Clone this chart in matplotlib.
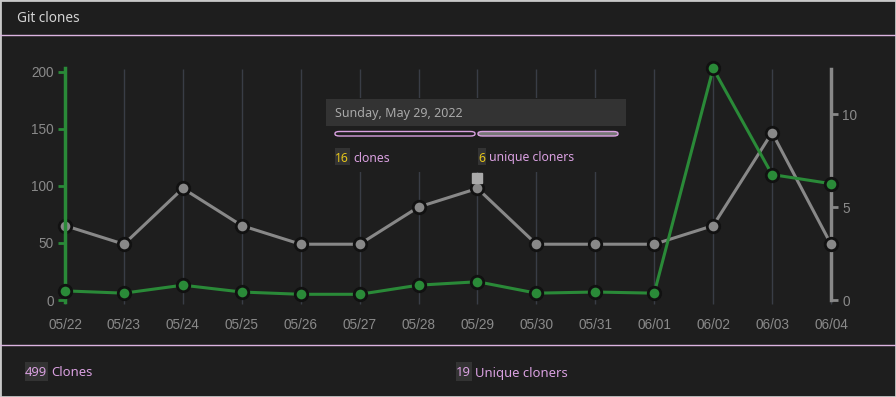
import matplotlib
matplotlib.use("Agg")
import matplotlib.pyplot as plt
import matplotlib.transforms as mtransforms
from matplotlib.patches import Rectangle, FancyBboxPatch

# data
dates = ["05/22", "05/23", "05/24", "05/25", "05/26", "05/27", "05/28",
         "05/29", "05/30", "05/31", "06/01", "06/02", "06/03", "06/04"]
clones = [8, 6, 13, 7, 5, 5, 13, 16, 6, 7, 6, 203, 110, 102]
uniques = [4, 3, 6, 4, 3, 3, 5, 6, 3, 3, 3, 4, 9, 3]
total_clones = 499
total_uniques = 19
hover_idx = 7
hover_label = "Sunday, May 29, 2022"

BG = "#1e1e1e"
GREEN = "#2a8a38"
GRAY = "#888888"
PINK = "#d9a0e0"
YELLOW = "#e6c619"
TICK = "#8a8a8a"
W, H = 896, 397

plt.rcParams["font.family"] = ["Liberation Sans", "DejaVu Sans"]
UI_FONT = ["Noto Sans", "DejaVu Sans"]

fig = plt.figure(figsize=(W / 100, H / 100), dpi=100, facecolor=BG)


def fx(px):
    return px / W


def fy(py):
    return 1 - py / H


ax = fig.add_axes([fx(65), fy(300), fx(831 - 65), (300 - 68.5) / H])
ax2 = ax.twinx()
# green axis on top so its markers sit over the grey spine
ax.set_zorder(ax2.get_zorder() + 1)
ax.patch.set_visible(False)
ax2.patch.set_facecolor(BG)

x = list(range(len(dates)))

# vertical grid, running a little below the plot like the reference
ax2.vlines(x, -0.018, 1, transform=ax2.get_xaxis_transform(), color="#393d46",
           lw=1, zorder=0, clip_on=False)

ax.plot(x, clones, color=GREEN, lw=2.2, marker="o", ms=9, mfc=GREEN,
        mec="#111111", mew=2, zorder=3, clip_on=False)
ax2.plot(x, uniques, color=GRAY, lw=2.2, marker="o", ms=9, mfc=GRAY,
         mec="#111111", mew=2, zorder=3, clip_on=False)

# hover square above the selected point
sq_tr = mtransforms.offset_copy(ax2.transData, fig=fig, x=0, y=10, units="dots")
ax2.plot([hover_idx], [uniques[hover_idx]], marker="s", ms=7.5, color="#aaaaaa",
         transform=sq_tr, clip_on=False, zorder=4)

ax.set_xlim(0, len(dates) - 1)
ax.set_ylim(0, max(clones))
ax2.set_ylim(0, 12.45)

ax.set_xticks(x)
ax.set_xticklabels(dates)
ax.set_yticks([0, 50, 100, 150, 200])
ax2.set_yticks([0, 5, 10])

for s in ["top", "bottom", "right"]:
    ax.spines[s].set_visible(False)
for s in ["top", "bottom", "left"]:
    ax2.spines[s].set_visible(False)
ax.spines["left"].set_color(GREEN)
ax.spines["left"].set_linewidth(2.5)
ax.spines["left"].set_bounds(-1.5, max(clones))
ax2.spines["right"].set_color(GRAY)
ax2.spines["right"].set_linewidth(2.5)

ax.tick_params(axis="x", length=0, pad=13, labelsize=9.8, labelcolor=TICK)
ax.tick_params(axis="y", length=5, width=2, color=GREEN, labelsize=9.8,
               labelcolor=TICK, pad=3)
ax2.tick_params(axis="y", length=5, width=2, color=GRAY, labelsize=9.8,
                labelcolor=TICK, pad=3)

# header / footer
fig.text(fx(17), fy(18), "Git clones", color="#d4d4d4", fontsize=9.8,
         va="center", ha="left", family=UI_FONT)
for yy in (35, 345):
    fig.add_artist(plt.Line2D([0, 1], [fy(yy), fy(yy)], color="#dcb4e0", lw=1))
fig.add_artist(Rectangle((0, 0), 1, 1, transform=fig.transFigure, fill=False,
                         ec="#c8c8c8", lw=2))

# tooltip: mask behind, date strip, bars, counts
fig.add_artist(Rectangle((fx(326), fy(172)), fx(300), (172 - 98) / H,
                         transform=fig.transFigure, fc=BG, ec="none", zorder=5))
fig.add_artist(Rectangle((fx(326), fy(126)), fx(300), 27 / H,
                         transform=fig.transFigure, fc="#333333", ec="none", zorder=6))
fig.text(fx(335), fy(113), hover_label, color="#a8a8a8", fontsize=9,
         va="center", ha="left", family=UI_FONT, zorder=7)
fig.add_artist(FancyBboxPatch((fx(335), fy(136)), fx(140), 4.5 / H,
                              boxstyle="round,pad=0,rounding_size=0.005",
                              transform=fig.transFigure, fc=BG, ec=PINK, lw=1, zorder=7))
fig.add_artist(FancyBboxPatch((fx(478), fy(136)), fx(140), 4.5 / H,
                              boxstyle="round,pad=0,rounding_size=0.005",
                              transform=fig.transFigure, fc="#777777", ec=PINK, lw=1, zorder=7))

fig.canvas.draw()
r = fig.canvas.get_renderer()


def pair(px, py, num, label, numcolor, size, box_h):
    # text centre sits a bit high in mpl (descent counted), so nudge down
    ty = py + 2
    t = fig.text(fx(px), fy(ty), str(num), color=numcolor, fontsize=size,
                 va="center", ha="left", family=UI_FONT, zorder=8)
    ext = t.get_window_extent(renderer=r)
    # highlight box behind the number
    fig.add_artist(Rectangle((fx(px), fy(py + box_h / 2)),
                             (ext.x1 - ext.x0 + 1) / W, box_h / H,
                             transform=fig.transFigure, fc="#333333",
                             ec="none", zorder=7.5))
    fig.text(fx(ext.x1 + 4), fy(ty), label, fontsize=size, family=UI_FONT,
             zorder=8, color=PINK, va="center", ha="left")


pair(335, 156, clones[hover_idx], "clones", YELLOW, 8.8, 17)
pair(478, 156, uniques[hover_idx], "unique cloners", YELLOW, 8.8, 17)
pair(25, 371, total_clones, "Clones", PINK, 9.4, 19)
pair(456, 371, total_uniques, "Unique cloners", PINK, 9.4, 19)

fig.savefig("out.png", dpi=100, facecolor=BG)
